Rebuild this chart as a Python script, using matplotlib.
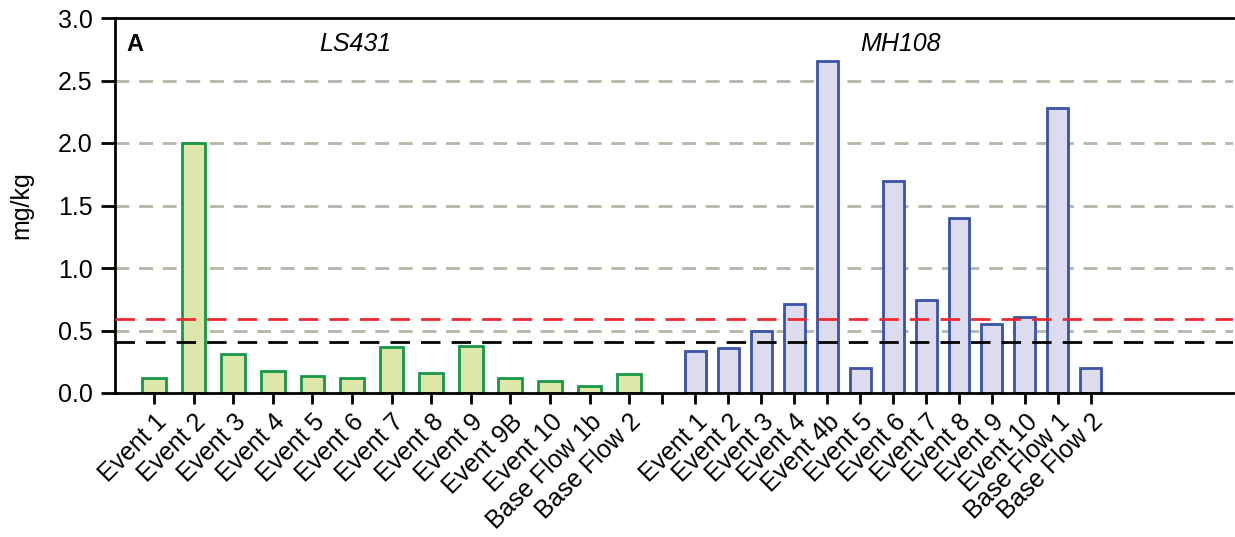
import numpy as np
import matplotlib.pyplot as plt
from matplotlib.transforms import ScaledTranslation

plt.rcParams['font.family'] = ['Liberation Sans', 'DejaVu Sans']

# LS431 site
ls_labels = ["Event 1", "Event 2", "Event 3", "Event 4", "Event 5", "Event 6",
             "Event 7", "Event 8", "Event 9", "Event 9B", "Event 10",
             "Base Flow 1b", "Base Flow 2"]
ls_values = [0.12, 2.00, 0.31, 0.18, 0.14, 0.12, 0.365, 0.16, 0.38, 0.12, 0.10, 0.06, 0.15]

# MH108 site
mh_labels = ["Event 1", "Event 2", "Event 3", "Event 4", "Event 4b", "Event 5",
             "Event 6", "Event 7", "Event 8", "Event 9", "Event 10",
             "Base Flow 1", "Base Flow 2"]
mh_values = [0.34, 0.36, 0.50, 0.71, 2.66, 0.20, 1.70, 0.745, 1.40, 0.555, 0.61, 2.28, 0.20]

red_level = 0.59
black_level = 0.41

# positions (LS step 1, MH step narrower, one empty slot between)
ls_step, mh_step = 1.0, 0.833
ls_x = np.arange(len(ls_values)) * ls_step
gap_x = ls_x[-1] + mh_step
mh_x = gap_x + mh_step * (np.arange(len(mh_values)) + 1)

fs = 18

fig = plt.figure(figsize=(12.35, 5.37), dpi=100)
ax = fig.add_axes([115/1235, 1 - 393/537, 1118/1235, 375/537])

# grid lines
for g in [0.5, 1.0, 1.5, 2.0, 2.5]:
    ax.axhline(g, color='#b5b5a8', lw=2, ls=(0, (5, 3.5)), zorder=0)

ax.bar(ls_x, ls_values, width=0.6, color='#dce6a8', edgecolor='#159848', linewidth=2, zorder=2)
ax.bar(mh_x, mh_values, width=0.53, color='#dcdcee', edgecolor='#3a52a8', linewidth=2, zorder=2)

ax.axhline(red_level, color='#ee2a30', lw=2, ls=(0, (7, 4)), zorder=3)
ax.axhline(black_level, color='black', lw=2, ls=(0, (7, 4)), zorder=3)

ticks = list(ls_x) + [gap_x] + list(mh_x)
ax.set_xticks(ticks)
ax.set_xticklabels(ls_labels + [""] + mh_labels, rotation=45, ha='right', va='top',
                   rotation_mode='anchor', fontsize=fs)
shift = ScaledTranslation(9/100, 0, fig.dpi_scale_trans)
for lab in ax.get_xticklabels():
    lab.set_transform(lab.get_transform() + shift)
ax.set_xlim(-0.985, 27.25)
ax.set_ylim(0, 3.0)
ax.set_yticks(np.arange(0, 3.01, 0.5))
ax.set_yticklabels([f"{v:.1f}" for v in np.arange(0, 3.01, 0.5)], fontsize=fs)
ax.set_ylabel("mg/kg", fontsize=fs, labelpad=18)

ax.spines['right'].set_visible(False)
for s in ['left', 'bottom', 'top']:
    ax.spines[s].set_linewidth(2)
ax.tick_params(axis='y', direction='out', length=10, width=2, pad=6)
ax.tick_params(axis='x', direction='out', length=8, width=2, pad=4)

ax.text(0.01, 0.93, "A", transform=ax.transAxes, fontsize=fs - 1, fontweight='bold', va='center')
ax.text(5.08, 2.79, "LS431", fontsize=fs, style='italic', ha='center', va='center')
ax.text(mh_x[6] + 0.2, 2.79, "MH108", fontsize=fs, style='italic', ha='center', va='center')

fig.savefig("out.png", dpi=100)
